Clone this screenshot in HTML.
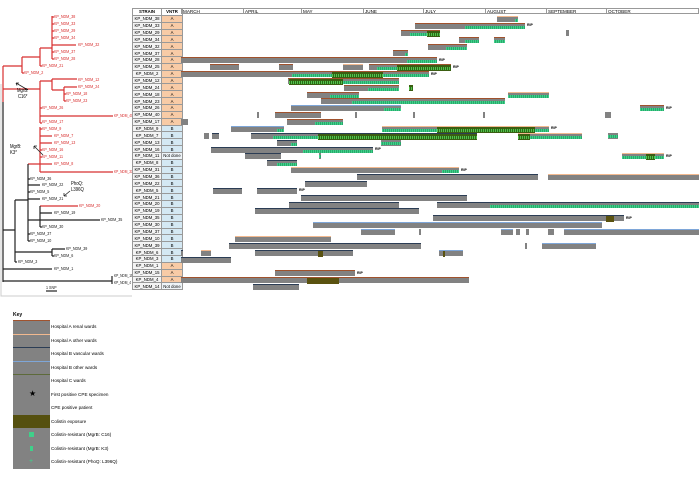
<!DOCTYPE html>
<html><head><meta charset="utf-8"><style>
body{margin:0;background:#fff;width:700px;height:492px;overflow:hidden;font-family:"Liberation Sans",sans-serif;position:relative}
.a{position:absolute}
.lb{position:absolute;font-size:4.3px;white-space:nowrap;line-height:5px;transform:scaleX(0.85);transform-origin:left}
.r{color:#d83030}.k{color:#222}
.e{transform:scaleX(0.75)}
table{position:absolute;left:132px;top:8px;border-collapse:collapse}
td{border:1px solid #999;height:5.87px;padding:0;font-size:4.3px;line-height:5px;text-align:center;white-space:nowrap;overflow:hidden}
.s{width:28px;max-width:28px;background:#f4f4f4}
.vA{width:20px;background:#f8cba6}.vB{width:20px;background:#d4e8f3}.vN{width:20px;background:#eef4f8}
.h td{font-weight:bold;background:#fff}
.mon{position:absolute;top:8px;height:6px;border:1px solid #999;font-size:4.6px;line-height:6px;padding-left:1px;box-sizing:border-box}
.bar{position:absolute;height:6px;background:#828282}
.g{position:absolute;height:3px;top:2px;background:repeating-linear-gradient(90deg,#3fd08a 0 1px,#2aa86c 1px 2px)}
.d{position:absolute;height:6px;top:0;background:#3b5e12}
.gd{position:absolute;height:3px;top:2px;background:repeating-linear-gradient(90deg,#53c34a 0 1px,#2c6a1a 1px 2px)}
.o{position:absolute;height:6px;top:0;background:#5a5210}
.rip{position:absolute;font-size:3.5px;font-weight:bold;line-height:4px}
.key{position:absolute;left:13px;width:37px;height:13.5px;background:#828282}
.kl{position:absolute;left:51px;font-size:4.6px;white-space:nowrap}
</style></head><body>

<svg class="a" style="left:0;top:0" width="132" height="300">
<g stroke="#d83030" stroke-width="1.2" fill="none">
<path d="M3 66V102M3 66H22M22 57V73M22 57H40M22 73H24M40 48V66M40 48H52M40 66H42M52 16V59M52 17H54M52 24H54M52 31H54M52 38H54M52 45H76M52 52H54M52 59H54"/>
<path d="M3 89H40M40 81V123M40 81H52M52 79V90M52 79H77M52 90H64M64 87V101M64 87H77M64 94H66M64 101H66M40 108H42M40 116H113M40 123H42"/>
<path d="M40 127V172M40 129H42M40 136H52M40 143H52M40 150H42M40 157H42M40 164H52M28 164H40M40 172H113M40 206H78"/>
</g>
<g stroke="#222" stroke-width="1.2" fill="none">
<path d="M28 164V241M28 179H30M28 185H40M28 192H30M28 199H40M28 220H40M40 206V227M40 213H52M40 220H100M40 227H42M28 234H30M28 241H30"/>
<path d="M15 200H28M15 200V262M15 252H52M52 249V256M52 249H65M52 256H54M15 262H17M3 102V282M3 230H15M3 269H52M3 281H112M112 276V284"/>
<path d="M46 291H57"/>
</g>
<path d="M1 84V296H132" stroke="#ccc" fill="none"/>
<path d="M16 83L28 90M16 83l3 0M16 83l1 2.5" stroke="#222" stroke-width="0.8" fill="none"/>
<path d="M43 155L34 146M34 146l0 3M34 146l3 0" stroke="#222" stroke-width="0.8" fill="none"/>
<path d="M64 196L70 191M64 196l0-3M64 196l3 0" stroke="#222" stroke-width="0.8" fill="none"/>
</svg>
<div class="lb" style="left:17px;top:88px;font-size:5px;text-align:center;line-height:6px">MgrB:<br>C16*</div>
<div class="lb" style="left:10px;top:144px;font-size:5px;line-height:6px">MgrB:<br>K3*</div>
<div class="lb" style="left:71px;top:181px;font-size:5px;line-height:6px">PhoQ:<br>L396Q</div>
<div class="lb k" style="left:46px;top:285px">1 SNP</div>

<div class="lb r" style="left:54px;top:14px">KP_NDM_38</div>
<div class="lb r" style="left:54px;top:21px">KP_NDM_33</div>
<div class="lb r" style="left:54px;top:28px">KP_NDM_29</div>
<div class="lb r" style="left:54px;top:35px">KP_NDM_34</div>
<div class="lb r" style="left:78px;top:42px">KP_NDM_32</div>
<div class="lb r" style="left:54px;top:49px">KP_NDM_37</div>
<div class="lb r" style="left:54px;top:56px">KP_NDM_28</div>
<div class="lb r" style="left:42px;top:63px">KP_NDM_21</div>
<div class="lb r" style="left:24px;top:70px">KP_NDM_2</div>
<div class="lb r" style="left:78px;top:77px">KP_NDM_12</div>
<div class="lb r" style="left:78px;top:84px">KP_NDM_24</div>
<div class="lb r" style="left:66px;top:91px">KP_NDM_18</div>
<div class="lb r" style="left:66px;top:98px">KP_NDM_23</div>
<div class="lb r" style="left:42px;top:105px">KP_NDM_26</div>
<div class="lb r e" style="left:114px;top:113px">KP_NDM_40</div>
<div class="lb r" style="left:42px;top:119px">KP_NDM_17</div>
<div class="lb r" style="left:42px;top:126px">KP_NDM_9</div>
<div class="lb r" style="left:54px;top:133px">KP_NDM_7</div>
<div class="lb r" style="left:54px;top:140px">KP_NDM_13</div>
<div class="lb r" style="left:42px;top:147px">KP_NDM_16</div>
<div class="lb r" style="left:42px;top:154px">KP_NDM_11</div>
<div class="lb r" style="left:54px;top:161px">KP_NDM_8</div>
<div class="lb r e" style="left:114px;top:169px">KP_NDM_31</div>
<div class="lb k" style="left:30px;top:176px">KP_NDM_36</div>
<div class="lb k" style="left:42px;top:182px">KP_NDM_22</div>
<div class="lb k" style="left:30px;top:189px">KP_NDM_5</div>
<div class="lb k" style="left:42px;top:196px">KP_NDM_21</div>
<div class="lb r" style="left:79px;top:203px">KP_NDM_20</div>
<div class="lb k" style="left:54px;top:210px">KP_NDM_19</div>
<div class="lb k" style="left:101px;top:217px">KP_NDM_35</div>
<div class="lb k" style="left:42px;top:224px">KP_NDM_30</div>
<div class="lb k" style="left:30px;top:231px">KP_NDM_37</div>
<div class="lb k" style="left:30px;top:238px">KP_NDM_10</div>
<div class="lb k" style="left:66px;top:246px">KP_NDM_39</div>
<div class="lb k" style="left:54px;top:253px">KP_NDM_6</div>
<div class="lb k" style="left:18px;top:259px">KP_NDM_3</div>
<div class="lb k" style="left:54px;top:266px">KP_NDM_1</div>
<div class="lb k e" style="left:114px;top:273px">KP_NDM_15</div>
<div class="lb k e" style="left:114px;top:280px">KP_NDM_4</div>

<table>
<tr class="h"><td class="s">STRAIN</td><td style="width:20px">VNTR</td></tr>
<tr><td class="s">KP_NDM_38</td><td class="vA">A</td></tr>
<tr><td class="s">KP_NDM_33</td><td class="vA">A</td></tr>
<tr><td class="s">KP_NDM_29</td><td class="vA">A</td></tr>
<tr><td class="s">KP_NDM_34</td><td class="vA">A</td></tr>
<tr><td class="s">KP_NDM_32</td><td class="vA">A</td></tr>
<tr><td class="s">KP_NDM_37</td><td class="vA">A</td></tr>
<tr><td class="s">KP_NDM_28</td><td class="vA">A</td></tr>
<tr><td class="s">KP_NDM_25</td><td class="vA">A</td></tr>
<tr><td class="s">KP_NDM_2</td><td class="vA">A</td></tr>
<tr><td class="s">KP_NDM_12</td><td class="vA">A</td></tr>
<tr><td class="s">KP_NDM_24</td><td class="vA">A</td></tr>
<tr><td class="s">KP_NDM_18</td><td class="vA">A</td></tr>
<tr><td class="s">KP_NDM_23</td><td class="vA">A</td></tr>
<tr><td class="s">KP_NDM_26</td><td class="vA">A</td></tr>
<tr><td class="s">KP_NDM_40</td><td class="vA">A</td></tr>
<tr><td class="s">KP_NDM_17</td><td class="vA">A</td></tr>
<tr><td class="s">KP_NDM_9</td><td class="vB">B</td></tr>
<tr><td class="s">KP_NDM_7</td><td class="vB">B</td></tr>
<tr><td class="s">KP_NDM_13</td><td class="vB">B</td></tr>
<tr><td class="s">KP_NDM_16</td><td class="vB">B</td></tr>
<tr><td class="s">KP_NDM_11</td><td class="vN">Not done</td></tr>
<tr><td class="s">KP_NDM_8</td><td class="vB">B</td></tr>
<tr><td class="s">KP_NDM_31</td><td class="vB">B</td></tr>
<tr><td class="s">KP_NDM_36</td><td class="vB">B</td></tr>
<tr><td class="s">KP_NDM_22</td><td class="vB">B</td></tr>
<tr><td class="s">KP_NDM_5</td><td class="vB">B</td></tr>
<tr><td class="s">KP_NDM_21</td><td class="vB">B</td></tr>
<tr><td class="s">KP_NDM_20</td><td class="vB">B</td></tr>
<tr><td class="s">KP_NDM_19</td><td class="vB">B</td></tr>
<tr><td class="s">KP_NDM_35</td><td class="vB">B</td></tr>
<tr><td class="s">KP_NDM_30</td><td class="vB">B</td></tr>
<tr><td class="s">KP_NDM_37</td><td class="vB">B</td></tr>
<tr><td class="s">KP_NDM_10</td><td class="vB">B</td></tr>
<tr><td class="s">KP_NDM_39</td><td class="vB">B</td></tr>
<tr><td class="s">KP_NDM_6</td><td class="vB">B</td></tr>
<tr><td class="s">KP_NDM_3</td><td class="vB">B</td></tr>
<tr><td class="s">KP_NDM_1</td><td class="vA">A</td></tr>
<tr><td class="s">KP_NDM_15</td><td class="vA">A</td></tr>
<tr><td class="s">KP_NDM_4</td><td class="vA">A</td></tr>
<tr><td class="s">KP_NDM_14</td><td class="vN">Not done</td></tr>
</table>

<div class="mon" style="left:181px;width:63px">MARCH</div>
<div class="mon" style="left:243px;width:59px">APRIL</div>
<div class="mon" style="left:301px;width:63px">MAY</div>
<div class="mon" style="left:363px;width:61px">JUNE</div>
<div class="mon" style="left:423px;width:63px">JULY</div>
<div class="mon" style="left:485px;width:62px">AUGUST</div>
<div class="mon" style="left:546px;width:61px">SEPTEMBER</div>
<div class="mon" style="left:606px;width:93px">OCTOBER</div>

<div id="bars"></div>
<script>
var R='#a0522d',P='#f2b98f',N='#2b3d55',L='#7ea6d8',C='#5d6a3a';
var B=[
[0,497,518,P,[[515,518]]],
[1,415,525,R,[[465,525]],[],[],1],
[2,401,440,R,[[410,427]],[[427,440]]],[2,566,569,0],
[3,459,479,R,[[465,479]]],[3,494,505,R,[[494,505]]],
[4,428,467,R,[[446,467]]],
[5,393,408,R,[[405,408]]],
[6,181,437,R,[[407,437]],[],[],1],
[7,210,239,R],[7,279,293,R],[7,343,363,P],[7,369,451,R,[[377,397]],[[397,451]],[],1],
[8,181,429,R,[[292,332],[383,429]],[[332,383]],[],1],
[9,288,399,R,[[343,399]],[[289,343]]],
[10,344,399,R,[[368,399]]],[10,409,413,0,[],[[409,413]]],
[11,307,359,R,[[330,359]]],[11,508,549,P,[[508,549]]],
[12,321,505,R,[[352,505]]],
[13,291,401,L,[[384,401]]],[13,640,664,R,[[640,664]],[],[],1],
[14,257,259,0],[14,275,321,R],[14,355,357,0],[14,413,415,0],[14,483,485,0],[14,605,611,0],
[15,181,188,0],[15,287,343,R,[[315,343]]],
[16,231,284,L,[[277,284]]],[16,382,549,P,[[382,437],[535,549]],[[437,535]],[],1],
[17,204,209,0],[17,212,219,N],[17,251,477,N,[[273,318]],[[318,477]]],[17,518,582,P,[[530,582]],[[518,530]]],[17,608,618,0,[[608,618]]],
[18,277,297,N,[[291,297]]],[18,381,401,0,[[381,401]]],
[19,211,373,N,[[303,373]],[],[],1],
[20,245,281,N],[20,319,321,0,[[319,321]]],[20,622,664,P,[[622,646],[655,664]],[[646,655]],[],1],
[21,267,297,N,[[277,297]]],
[22,291,459,P,[[442,459]],[],[],1],
[23,357,538,N],[23,548,699,P],
[24,305,367,N],
[25,213,242,N],[25,257,297,N,[],[],[],1],
[26,301,467,N],
[27,289,399,N],[27,437,699,N,[[490,699]]],
[28,255,419,N],
[29,433,624,N,[],[],[[606,614]],1],
[30,313,602,L],
[31,361,395,L],[31,419,421,0],[31,501,513,L],[31,516,520,0],[31,526,529,0],[31,548,554,0],[31,564,699,L],
[32,235,331,P],
[33,229,421,N],[33,525,527,0],[33,542,596,L],
[34,181,183,N],[34,201,211,P],[34,255,353,N,[],[],[[318,323]]],[34,439,463,L,[],[],[[443,445]]],
[35,181,231,N],
[37,275,355,R,[],[],[],1],
[38,181,469,R,[],[],[[307,339]]],
[39,253,299,N]
];
var h='';
B.forEach(function(b){
 var y=16+b[0]*6.87, x=b[1], w=b[2]-b[1];
 var s='<div class="bar" style="left:'+x+'px;top:'+y.toFixed(1)+'px;width:'+w+'px;'+(b[3]?'border-top:1px solid '+b[3]+';height:5px':'')+'">';
 (b[5]||[]).forEach(function(g){s+='<div class="d" style="left:'+(g[0]-x)+'px;width:'+(g[1]-g[0])+'px"></div><div class="gd" style="left:'+(g[0]-x)+'px;width:'+(g[1]-g[0])+'px"></div>';});
 (b[6]||[]).forEach(function(g){s+='<div class="o" style="left:'+(g[0]-x)+'px;width:'+(g[1]-g[0])+'px"></div>';});
 (b[4]||[]).forEach(function(g){s+='<div class="g" style="left:'+(g[0]-x)+'px;width:'+(g[1]-g[0])+'px"></div>';});
 s+='</div>';
 if(b[7]) s+='<div class="rip" style="left:'+(b[2]+2)+'px;top:'+(y+0.5).toFixed(1)+'px">RIP</div>';
 h+=s;
});
document.getElementById('bars').innerHTML=h;
</script>

<div class="a" style="left:13px;top:312px;font-size:5px;font-weight:bold">Key</div>
<div class="key" style="top:320px;border-top:1px solid #a0522d"></div><div class="kl" style="top:324px">Hospital A renal wards</div>
<div class="key" style="top:334px;border-top:1px solid #f2b98f"></div><div class="kl" style="top:338px">Hospital A other wards</div>
<div class="key" style="top:347px;border-top:1px solid #2b3d55"></div><div class="kl" style="top:351px">Hospital B vascular wards</div>
<div class="key" style="top:361px"><div class="a" style="left:0;top:0;width:37px;height:1px;background:#7ea6d8"></div></div><div class="kl" style="top:365px">Hospital B other wards</div>
<div class="key" style="top:374px;border-top:1px solid #5d6a3a"></div><div class="kl" style="top:378px">Hospital C wards</div>
<div class="key" style="top:388px"><div class="a" style="left:16px;top:2px;font-size:8px;line-height:8px">★</div></div><div class="kl" style="top:392px">First positive CPE specimen</div>
<div class="key" style="top:401px"></div><div class="kl" style="top:405px">CPE positive patient</div>
<div class="key" style="top:415px;background:#55500f"></div><div class="kl" style="top:419px">Colistin exposure</div>
<div class="key" style="top:428px"><div class="a" style="left:16px;top:4px;width:5px;height:5px;background:#3fd08a"></div></div><div class="kl" style="top:432px">Colistin-resistant (MgrB: C16)</div>
<div class="key" style="top:442px"><div class="a" style="left:17px;top:4px;width:3px;height:5px;background:#3fd08a"></div></div><div class="kl" style="top:446px">Colistin-resistant (MgrB: K3)</div>
<div class="key" style="top:455px"><div class="a" style="left:16px;top:3px;color:#3fd08a;font-size:7px;line-height:7px">+</div></div><div class="kl" style="top:459px">Colistin-resistant (PhoQ: L396Q)</div>
</body></html>
